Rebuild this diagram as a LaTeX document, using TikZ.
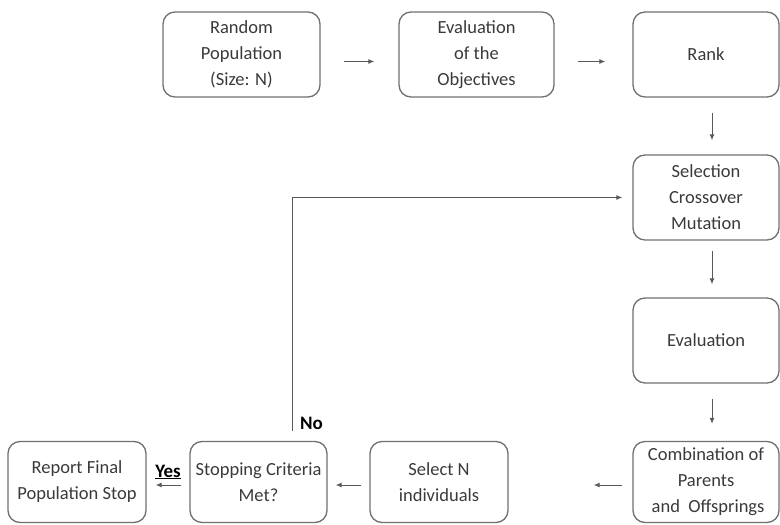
\documentclass[tikz,border=0pt]{standalone}
\usepackage{fontspec}
\setmainfont{Carlito}
\usetikzlibrary{arrows.meta}
\definecolor{boxline}{HTML}{707070}
\definecolor{txt}{HTML}{3A3A3A}
\definecolor{arr}{HTML}{5A5A5A}
\tikzset{
  box/.style={draw=boxline, line width=1.3pt, rounded corners=12pt, align=center,
    text=txt, font=\fontsize{18.5}{26}\selectfont, inner sep=0pt},
  conn/.style={draw=arr, line width=1pt, -{Latex[length=6pt,width=5pt]}},
  lbl/.style={font=\fontsize{19}{23}\selectfont\bfseries, text=black, inner sep=0pt}
}
\begin{document}
\begin{tikzpicture}[x=1pt,y=-1pt]
\useasboundingbox (0,0) rectangle (780,525);
\node[box, minimum width=157pt, minimum height=85pt] (rp) at (241.5,54.5) {Random\\Population\\(Size: N)};
\node[box, minimum width=155pt, minimum height=85pt] (eo) at (476.5,54.5) {Evaluation\\of the\\Objectives};
\node[box, minimum width=146pt, minimum height=85pt] (rk) at (706,54.5) {Rank};
\node[box, minimum width=146pt, minimum height=85pt] (sc) at (706,197.5) {Selection\\Crossover\\Mutation};
\node[box, minimum width=146pt, minimum height=85pt] (ev) at (706,340.5) {Evaluation};
\node[box, minimum width=146pt, minimum height=81pt] (cb) at (706,482) {Combination of\\Parents\\\ and~~Offsprings};
\node[box, minimum width=138pt, minimum height=81pt] (sn) at (439,482) {Select N\\individuals};
\node[box, minimum width=137pt, minimum height=81pt] (st) at (258.5,482) {Stopping Criteria\\Met?};
\node[box, minimum width=138pt, minimum height=81pt] (rf) at (77,482) {Report Final\\Population Stop};

\draw[conn, shorten <=23pt, shorten >=24pt] ([yshift=-7pt]rp.east) -- ([yshift=-7pt]eo.west);
\draw[conn, shorten <=23pt, shorten >=27pt] ([yshift=-7pt]eo.east) -- ([yshift=-7pt]rk.west);
\draw[conn, shorten <=15pt, shorten >=14pt] ([xshift=6pt]rk.south) -- ([xshift=6pt]sc.north);
\draw[conn, shorten <=10pt, shorten >=13pt] ([xshift=6pt]sc.south) -- ([xshift=6pt]ev.north);
\draw[conn, shorten <=15pt, shorten >=17pt] ([xshift=6pt]ev.south) -- ([xshift=6pt]cb.north);
\draw[conn, shorten <=10pt, shorten >=85pt] ([yshift=-3pt]cb.west) -- ([yshift=-3pt]sn.east);
\draw[conn, shorten <=8pt, shorten >=8pt] ([yshift=-3pt]sn.west) -- ([yshift=-3pt]st.east);
\draw[conn, shorten <=8pt, shorten >=9pt] ([yshift=-3pt]st.west) -- ([yshift=-3pt]rf.east);
\coordinate (nobot) at ([xshift=33.5pt,yshift=10pt]st.north);
\draw[conn, shorten >=10pt] (nobot) |- (sc.west);
\node[lbl, anchor=west] (no) at ([xshift=8pt,yshift=7pt]nobot) {No};
\node[lbl] (yes) at (168,472) {\underline{Yes}};
\end{tikzpicture}
\end{document}
